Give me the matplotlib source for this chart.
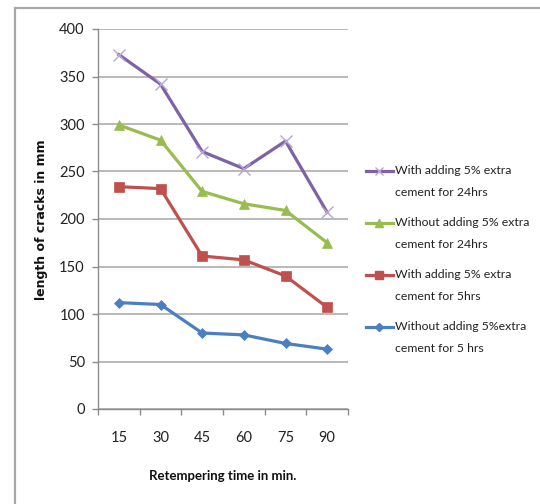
import matplotlib
matplotlib.use("Agg")
import matplotlib.pyplot as plt
from matplotlib.lines import Line2D
from matplotlib.patches import Rectangle

plt.rcParams['font.family'] = ['Lato', 'DejaVu Sans']

# Retempering times (min) and crack lengths (mm)
times = ["15", "30", "45", "60", "75", "90"]
with_5pct_24h = [373, 342, 271, 253, 282, 207]
without_5pct_24h = [299, 283, 229, 216, 209, 175]
with_5pct_5h = [234, 232, 161, 157, 140, 107]
without_5pct_5h = [112, 110, 80, 78, 69, 63]

labels = [
    "With adding 5% extra\ncement for 24hrs",
    "Without adding 5% extra\ncement for 24hrs",
    "With adding 5% extra\ncement for 5hrs",
    "Without adding 5%extra\ncement for 5 hrs",
]
series = [with_5pct_24h, without_5pct_24h, with_5pct_5h, without_5pct_5h]
colors = ["#7F62A6", "#98BC4E", "#C0504D", "#4A7FC1"]
markers = ["x", "^", "s", "D"]
msizes = [8, 7.5, 7.5, 5.5]
mcolors = ["#B7A6D2", "#98BC4E", "#C0504D", "#4A7FC1"]

W, H = 540, 504
fig = plt.figure(figsize=(W / 100, H / 100), dpi=100)

# outer frame
fig.add_artist(Rectangle((15 / W, -0.05), 1.2, 1 - 8 / H + 0.05,
                         transform=fig.transFigure, fill=False,
                         edgecolor="#A8A8A8", linewidth=1.6))

ax = fig.add_axes([98 / W, 1 - 409 / H, 250 / W, 380 / H])
x = list(range(1, len(times) + 1))
for vals, c, m, ms, mc in zip(series, colors, markers, msizes, mcolors):
    ax.plot(x, vals, color=c, linewidth=2.3, marker=m, markersize=ms,
            markerfacecolor=mc, markeredgecolor=mc,
            markeredgewidth=1.0 if m == "x" else 0.5, zorder=3)

ax.set_xlim(0.5, len(times) + 0.5)
ax.set_ylim(0, 400)
ax.set_yticks(range(0, 401, 50))
ax.set_xticks(x)
ax.set_xticklabels(times)
ax.set_xticks([i + 0.5 for i in range(0, len(times) + 1)], minor=True)
ax.tick_params(axis="x", which="major", length=0, pad=16, labelsize=10.5, colors="#222222")
ax.tick_params(axis="x", which="minor", length=4, width=1, color="#8C8C8C")
ax.tick_params(axis="y", length=4.5, width=1, color="#8C8C8C", pad=5,
               labelsize=10.5, labelcolor="#222222")
ax.grid(axis="y", color="#A6A6A6", linewidth=1.1)
ax.set_axisbelow(True)
for s in ["top", "right"]:
    ax.spines[s].set_visible(False)
for s in ["left", "bottom"]:
    ax.spines[s].set_color("#8C8C8C")
    ax.spines[s].set_linewidth(1.0)

ax.set_xlabel("Retempering time in min.", fontsize=9.5, fontweight="bold",
              color="#111111")
ax.xaxis.set_label_coords(223 / W, 1 - 470 / H, transform=fig.transFigure)
ax.set_ylabel("length of cracks in mm", fontsize=9, fontweight="bold",
              family="DejaVu Sans", color="#111111")
ax.yaxis.set_label_coords(48 / W, 1 - 220 / H, transform=fig.transFigure)

# legend, handle aligned with the first text line
y0 = 171
for i, (lab, c, m, mc) in enumerate(zip(labels, colors, markers, mcolors)):
    yy = y0 + i * 52
    fy = 1 - yy / H
    fig.add_artist(Line2D([366 / W, 393 / W], [fy, fy], transform=fig.transFigure,
                          color=c, linewidth=2.3))
    fig.add_artist(Line2D([379 / W], [fy], transform=fig.transFigure,
                          marker=m, markersize=6 if m != "D" else 4.5,
                          color=mc, markeredgecolor=mc, linestyle="none"))
    for j, line in enumerate(lab.split("\n")):
        fig.text(395 / W, 1 - (yy + j * 21) / H, line, fontsize=8.8,
                 va="center", ha="left", color="#222222")

fig.savefig("out.png", dpi=100)
